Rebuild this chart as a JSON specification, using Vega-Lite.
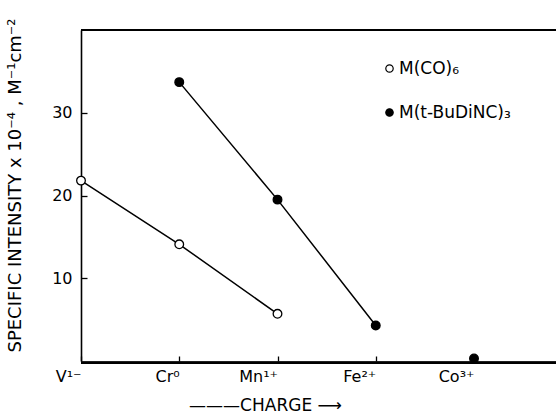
{
  "$schema": "https://vega.github.io/schema/vega-lite/v6.json",
  "autosize": "none",
  "padding": {"left": 81, "top": 30, "right": 0, "bottom": 55},
  "width": 475,
  "height": 331,
  "background": "white",
  "config": {
    "view": {"stroke": null},
    "font": "DejaVu Sans",
    "axis": {"labelFont": "DejaVu Sans", "titleFont": "DejaVu Sans", "labelColor": "black", "titleColor": "black", "tickColor": "black", "domainColor": "black", "grid": false}
  },
  "data": {
    "values": [
      {"ion": "V¹⁻", "complex": "M(CO)₆", "value": 21.8},
      {"ion": "Cr⁰", "complex": "M(CO)₆", "value": 14.1},
      {"ion": "Mn¹⁺", "complex": "M(CO)₆", "value": 5.7},
      {"ion": "Cr⁰", "complex": "M(t-BuDiNC)₃", "value": 33.7},
      {"ion": "Mn¹⁺", "complex": "M(t-BuDiNC)₃", "value": 19.5},
      {"ion": "Fe²⁺", "complex": "M(t-BuDiNC)₃", "value": 4.3},
      {"ion": "Co³⁺", "complex": "M(t-BuDiNC)₃", "value": 0.3}
    ]
  },
  "layer": [
    {
      "mark": {"type": "rule", "color": "black", "strokeWidth": 1.6},
      "encoding": {"y": {"datum": 40, "type": "quantitative"}}
    },
    {
      "mark": {"type": "rule", "color": "black", "strokeWidth": 1.6},
      "encoding": {"y": {"datum": -0.2, "type": "quantitative"}}
    },
    {
      "transform": [{"filter": "datum.ion != 'Co³⁺'"}],
      "mark": {"type": "line", "color": "black", "strokeWidth": 1.5},
      "encoding": {
        "x": {"field": "ion", "type": "ordinal"},
        "y": {"field": "value", "type": "quantitative"},
        "detail": {"field": "complex"}
      }
    },
    {
      "mark": {"type": "point", "filled": true, "stroke": "black", "strokeWidth": 1.3, "opacity": 1, "shape": "circle"},
      "encoding": {
        "x": {
          "field": "ion", "type": "ordinal",
          "scale": {"type": "point", "domain": ["V¹⁻", "Cr⁰", "Mn¹⁺", "Fe²⁺", "Co³⁺"], "range": [0, 393], "padding": 0},
          "axis": {
            "domain": false, "tickSize": -5, "tickWidth": 1.3, "labelPadding": 20,
            "labelFontSize": 16, "labelAngle": 0,
            "title": "———CHARGE ⟶", "titleFontSize": 17, "titleFontWeight": "normal",
            "titleX": 184, "titleY": 44, "titleAlign": "center", "titleBaseline": "middle"
          }
        },
        "y": {
          "field": "value", "type": "quantitative",
          "scale": {"domain": [0, 40], "nice": false, "zero": false},
          "axis": {
            "values": [10, 20, 30], "domainWidth": 1.6, "tickSize": -6, "tickWidth": 1.3, "labelPadding": 15,
            "labelFontSize": 16,
            "title": "SPECIFIC INTENSITY x 10⁻⁴ , M⁻¹cm⁻²", "titleFontSize": 18, "titleFontWeight": "normal",
            "titleX": -66, "titleY": 155, "titleAngle": -90, "titleAlign": "center", "titleBaseline": "middle"
          }
        },
        "fill": {
          "field": "complex", "type": "nominal",
          "scale": {"domain": ["M(CO)₆", "M(t-BuDiNC)₃"], "range": ["white", "black"]},
          "legend": {
            "title": null, "orient": "none", "legendX": 300, "legendY": 30,
            "labelFontSize": 17, "labelFont": "DejaVu Sans", "labelColor": "black",
            "symbolStrokeColor": "black", "symbolStrokeWidth": 1.2, "symbolSize": 55, "symbolType": "circle",
            "rowPadding": 26, "labelOffset": 1
          }
        },
        "size": {"value": 75}
      }
    }
  ]
}
